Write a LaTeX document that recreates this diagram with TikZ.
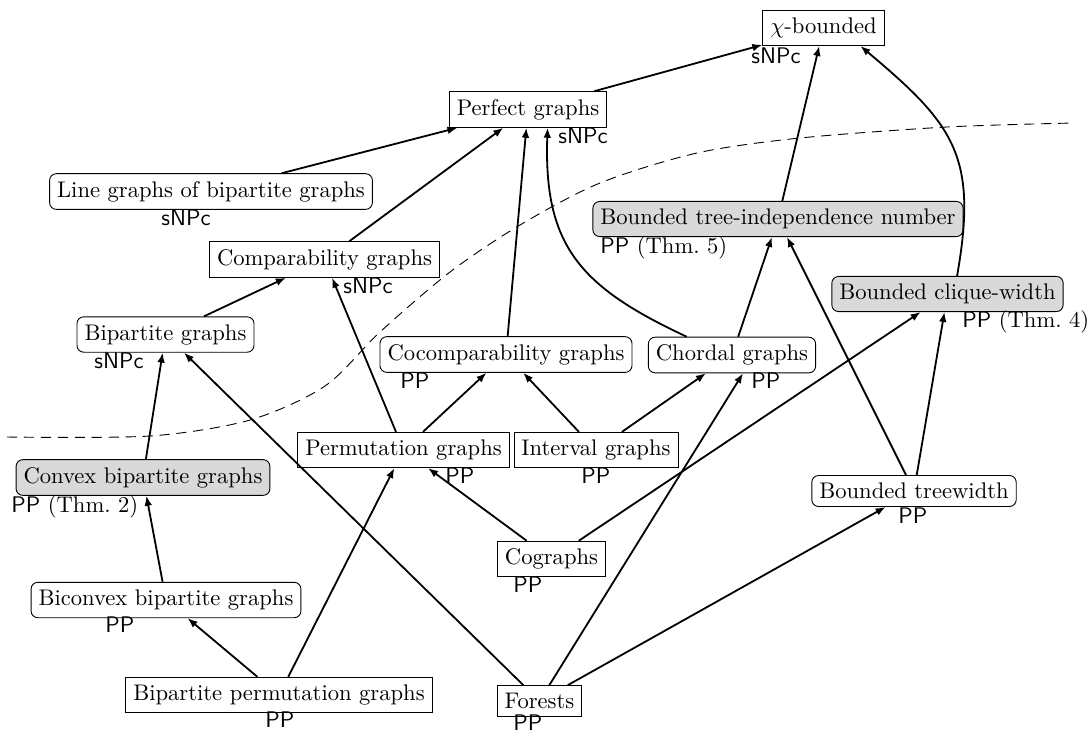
\documentclass[tikz,border=0pt]{standalone}
\usepackage{amsmath}
\usepackage{amssymb}
\usepackage{tikz}
\usetikzlibrary{arrows.meta}
\tikzstyle{Class}=[fill=white, draw=black, shape=rectangle, text=black]
\tikzstyle{Param}=[fill=white, draw=black, shape=rectangle, rounded corners=3pt, text=black]
\tikzstyle{NewParam}=[fill=black!15, draw=black, shape=rectangle, rounded corners=3pt, text=black]
\tikzstyle{Status}=[inner sep=0pt, anchor=base west, font=\sffamily]
\tikzstyle{arrow}=[-{Latex[length=4.4pt, width=3.4pt]}, line width=0.8pt]
\tikzstyle{frontier}=[dash pattern=on 4.5pt off 3pt, line width=0.4pt]
\pgfdeclarelayer{nodelayer}
\pgfdeclarelayer{edgelayer}
\pgfsetlayers{main, nodelayer, edgelayer}

\begin{document}
\begin{tikzpicture}[x=0.4425pt, y=-0.4425pt]
	\useasboundingbox (0,0) rectangle (1090,734);
	% boundary between easy and hard
	\draw [style=frontier] plot [smooth] coordinates {(7,437) (150,436) (250,420) (325,386) (380,332) (450,272) (520,225) (600,183) (697,153) (800,138) (947,127) (1073,123)};
	\begin{pgfonlayer}{nodelayer}
		\node [style=Class] (chi) at (823.5, 28) {$\chi$-bounded};
		\node [style=Class] (perfect) at (528, 109.5) {Perfect graphs};
		\node [style=Param] (linegraphs) at (211, 191.5) {Line graphs of bipartite graphs};
		\node [style=Class] (comparability) at (324.5, 259.5) {Comparability graphs};
		\node [style=Param] (bipartite) at (165.5, 334.5) {Bipartite graphs};
		\node [style=Param] (cocomparability) at (506, 354.5) {Cocomparability graphs};
		\node [style=Param] (chordal) at (732, 355) {Chordal graphs};
		\node [style=NewParam] (treealpha) at (778, 219) {Bounded tree-independence number};
		\node [style=NewParam] (cliquewidth) at (947.5, 294) {Bounded clique-width};
		\node [style=Class] (permutation) at (403.5, 450) {Permutation graphs};
		\node [style=Class] (interval) at (596, 450) {Interval graphs};
		\node [style=NewParam] (convex) at (143, 477.5) {Convex bipartite graphs};
		\node [style=Param] (treewidth) at (914, 491) {Bounded treewidth};
		\node [style=Class] (cographs) at (551.5, 559) {Cographs};
		\node [style=Param] (biconvex) at (166, 600) {Biconvex bipartite graphs};
		\node [style=Class] (bippermutation) at (279, 695) {Bipartite permutation graphs};
		\node [style=Class] (forests) at (539.5, 701) {Forests};

		% complexity status
		\node [style=Status] (chi-s) at (751, 63) {sNPc};
		\node [style=Status] (perfect-s) at (558, 143) {sNPc};
		\node [style=Status] (linegraphs-s) at (161, 225) {sNPc};
		\node [style=Status] (comparability-s) at (343, 293) {sNPc};
		\node [style=Status] (bipartite-s) at (94, 368) {sNPc};
		\node [style=Status] (cocomparability-s) at (400, 388) {PP};
		\node [style=Status] (chordal-s) at (751, 388) {PP};
		\node [style=Status] (treealpha-s) at (600, 253) {PP {\rmfamily(Thm.~5)}};
		\node [style=Status] (cliquewidth-s) at (962, 327) {PP {\rmfamily(Thm.~4)}};
		\node [style=Status] (permutation-s) at (445, 483) {PP};
		\node [style=Status] (interval-s) at (581, 483) {PP};
		\node [style=Status] (convex-s) at (11, 512) {PP {\rmfamily(Thm.~2)}};
		\node [style=Status] (treewidth-s) at (898, 523) {PP};
		\node [style=Status] (cographs-s) at (513, 592) {PP};
		\node [style=Status] (biconvex-s) at (105, 632) {PP};
		\node [style=Status] (bippermutation-s) at (265, 727) {PP};
		\node [style=Status] (forests-s) at (513, 730) {PP};
	\end{pgfonlayer}
	\begin{pgfonlayer}{edgelayer}
		\draw [style=arrow] (perfect) to (chi);
		\draw [style=arrow] (treealpha) to (chi);
		\draw [style=arrow] (cliquewidth.62) to [out=80, in=-40, looseness=1.25] (chi.-26);
		\draw [style=arrow] (linegraphs) to (perfect);
		\draw [style=arrow] (comparability) to (perfect);
		\draw [style=arrow] (cocomparability) to (perfect);
		\draw [style=arrow] (chordal.158) to [out=155, in=-92, looseness=1.2] (perfect.-43);
		\draw [style=arrow] (bipartite) to (comparability);
		\draw [style=arrow] (permutation) to (comparability);
		\draw [style=arrow] (convex) to (bipartite);
		\draw [style=arrow] (forests) to (bipartite);
		\draw [style=arrow] (permutation) to (cocomparability);
		\draw [style=arrow] (interval) to (cocomparability);
		\draw [style=arrow] (interval) to (chordal);
		\draw [style=arrow] (forests) to (chordal.-59);
		\draw [style=arrow] (chordal) to (treealpha);
		\draw [style=arrow] (treewidth) to (treealpha);
		\draw [style=arrow] (treewidth) to (cliquewidth);
		\draw [style=arrow] (cographs) to (cliquewidth);
		\draw [style=arrow] (cographs) to (permutation);
		\draw [style=arrow] (bippermutation) to (permutation);
		\draw [style=arrow] (bippermutation) to (biconvex);
		\draw [style=arrow] (biconvex) to (convex);
		\draw [style=arrow] (forests) to (treewidth);
	\end{pgfonlayer}
\end{tikzpicture}
\end{document}
